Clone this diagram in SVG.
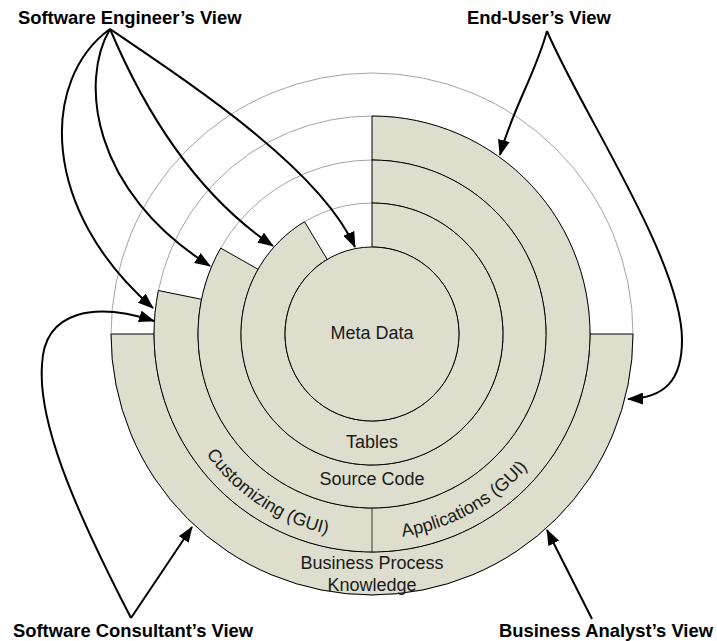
<svg xmlns="http://www.w3.org/2000/svg" xmlns:xlink="http://www.w3.org/1999/xlink" width="717" height="641" viewBox="0 0 717 641">
<style>
.guide{fill:none;stroke:#8c8c8c;stroke-width:0.8}
.ring{fill:#dddecd;stroke:#000;stroke-width:1}
.sep{fill:none;stroke:#333;stroke-width:1}
.lbl{font-family:"Liberation Sans",Arial,sans-serif;font-size:18px;fill:#1a1a1a}
.mid{text-anchor:middle}
.view{font-family:"Liberation Sans",Arial,sans-serif;font-size:18.4px;font-weight:bold;fill:#000}
.conn{fill:none;stroke:#000;stroke-width:2;marker-end:url(#ah)}
</style>
<defs>
<marker id="ah" markerUnits="userSpaceOnUse" markerWidth="16" markerHeight="12" refX="15" refY="6" orient="auto">
<path d="M0,0 L16,6 L0,12 Z" fill="#000"/>
</marker>
<path id="arcText" d="M179.4,404.1 A205 205 0 0 0 564.6,404.1"/>
</defs>
<rect width="717" height="641" fill="#fff"/>

<g id="guides">
<circle class="guide" cx="372" cy="334" r="261"/>
<circle class="guide" cx="372" cy="334" r="218"/>
<circle class="guide" cx="372" cy="334" r="174"/>
<circle class="guide" cx="372" cy="334" r="131"/>
</g>

<g id="ring-business-process">
<path class="ring" d="M633,334 A261 261 0 0 1 111,334 L154,334 A218 218 0 0 0 590,334 Z"/>
<text class="lbl mid" x="372" y="569">Business Process</text>
<text class="lbl mid" x="372" y="591">Knowledge</text>
</g>

<g id="ring-gui">
<path class="ring" d="M372,116 A218 218 0 1 1 158.4,290.5 L201.5,299.3 A174 174 0 1 0 372,160 Z"/>
<line class="sep" x1="372" y1="508" x2="372" y2="552"/>
<text class="lbl"><textPath xlink:href="#arcText" startOffset="57">Customizing (GUI)</textPath></text>
<text class="lbl"><textPath xlink:href="#arcText" startOffset="281">Applications (GUI)</textPath></text>
</g>

<g id="ring-source-code">
<path class="ring" d="M372,160 A174 174 0 1 1 220.7,248.1 L258.1,269.3 A131 131 0 1 0 372,203 Z"/>
<text class="lbl mid" x="372" y="485">Source Code</text>
</g>

<g id="ring-tables">
<path class="ring" d="M372,203 A131 131 0 1 1 304.5,221.7 L327.2,259.4 A87 87 0 1 0 372,247 Z"/>
<text class="lbl mid" x="372" y="448">Tables</text>
</g>

<g id="meta-data">
<circle class="ring" cx="372" cy="334" r="87"/>
<text class="lbl mid" x="372" y="339">Meta Data</text>
</g>

<g id="view-software-engineer">
<text class="view" x="18" y="24">Software Engineer’s View</text>
</g>
<g id="view-end-user">
<text class="view" x="467" y="24">End-User’s View</text>
</g>
<g id="view-software-consultant">
<text class="view" x="13" y="637">Software Consultant’s View</text>
</g>
<g id="view-business-analyst">
<text class="view" x="499" y="637">Business Analyst’s View</text>
</g>

<g id="connectors">
<path class="conn" d="M110,29 C40,80 40,210 153,308"/>
<path class="conn" d="M110,29 C80,80 90,190 210,266"/>
<path class="conn" d="M110,29 C140,100 190,190 273,246"/>
<path class="conn" d="M110,29 C200,90 320,170 355,247"/>
<path class="conn" d="M547,31 C535,75 512,110 500,155"/>
<path class="conn" d="M547,31 C580,110 682,260 682,340 C682,380 665,398 628,399"/>
<path class="conn" d="M131,618 L192,527"/>
<path class="conn" d="M131,618 C70,500 38,420 42,365 C44,310 95,302 154,321"/>
<path class="conn" d="M592,619 L547,530"/>
</g>
</svg>
